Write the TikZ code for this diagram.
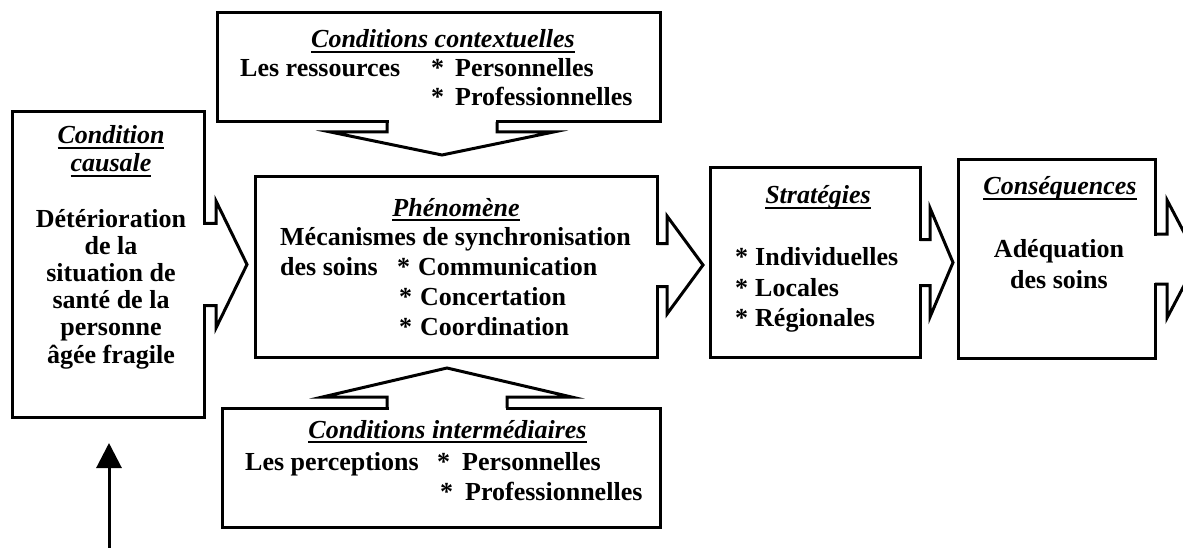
\documentclass[tikz,border=0pt]{standalone}
\usepackage{fontspec}
\setmainfont{Liberation Serif}
\usetikzlibrary{arrows.meta,calc}

\tikzset{
  frame/.style={draw, line width=3pt, fill=white, inner sep=0pt, outer sep=0pt},
  lbl/.style={inner sep=0pt, font=\fontsize{26}{28}\selectfont\bfseries},
  head/.style={lbl, anchor=base, font=\fontsize{26}{28}\selectfont\bfseries\itshape},
  item/.style={lbl, anchor=base west},
  blk/.style={line width=3pt, line join=miter},
}
% underlined heading with a fixed rule below the baseline
\newsavebox\headbox
\newcommand\hdline[1]{\sbox\headbox{#1}%
  \rlap{\rule[-4.8pt]{\wd\headbox}{1.8pt}}\usebox\headbox}
% starred list entry: star, then the text after a fixed gap
\newcommand\starred[2]{\makebox[#1][l]{*}#2}
% open block arrow leaving a frame: #1 anchor, #2 direction,
% #3 shaft half-width, #4 shaft length, #5 head half-width, #6 head length
\newcommand\blockarrow[6]{%
  \begin{scope}[shift={(#1)}, rotate=#2]
    \fill[white] (-2,-#3+1.5) rectangle (1.6,#3-1.5);
    \draw[blk] (0,-#3) -- (#4,-#3) -- (#4,-#5) -- (#4+#6,0)
               -- (#4,#5) -- (#4,#3) -- (0,#3);
  \end{scope}}

\begin{document}
\begin{tikzpicture}[x=1pt, y=-1pt]
  \useasboundingbox (0,0) rectangle (1183,548);
  \clip (0,0) rectangle (1183,548);

  % frames
  \node[frame, minimum width=192, minimum height=305] (cause) at (108,264.5) {};
  \node[frame, minimum width=443, minimum height=109] (ctx)   at (438.5,67.5) {};
  \node[frame, minimum width=402, minimum height=180] (phen)  at (456,267) {};
  \node[frame, minimum width=210, minimum height=189] (strat) at (815,262.5) {};
  \node[frame, minimum width=197, minimum height=198] (cons)  at (1056.5,259) {};
  \node[frame, minimum width=438, minimum height=119] (inter) at (441,467.5) {};

  % block arrows between the frames
  \blockarrow{cause.east}{0}{41}{12}{63.5}{31}
  \blockarrow{$(ctx.south)+(3.5,0)$}{-90}{55}{10}{111.5}{23}
  \blockarrow{$(inter.north)+(6,0)$}{90}{60}{11}{124.5}{29}
  \blockarrow{$(phen.east)+(0,-2)$}{0}{21.5}{10}{49}{36}
  \blockarrow{strat.east}{0}{23}{10}{54.5}{23}
  \blockarrow{cons.east}{0}{25}{12}{59}{31}

  % incoming arrow under the causal condition
  \coordinate (feed) at (109,570);
  \draw[line width=3pt, -{Triangle[width=25pt,length=25pt]}, shorten >=26pt]
    (feed) -- (feed |- cause.south);

  % Condition causale
  \node[head] (cause-h1) at (111,144) {\hdline{Condition}};
  \node[head] (cause-h2) at (111,172) {\hdline{causale}};
  \foreach \t [count=\i from 0] in {Détérioration, de la, situation de,
      santé de la, personne, âgée fragile}
    \node[lbl, anchor=base] (cause-l\i) at (111, 227+27.2*\i) {\t};

  % Conditions contextuelles
  \node[head] (ctx-h) at (443,48) {\hdline{Conditions contextuelles}};
  \node[item] (ctx-l) at (240,77) {Les ressources};
  \node[item] (ctx-a) at (431,77) {\starred{24pt}{Personnelles}};
  \node[item] (ctx-b) at (431,106) {\starred{24pt}{Professionnelles}};

  % Phénomène
  \node[head] (phen-h) at (456,216) {\hdline{Phénomène}};
  \node[item] (phen-l1) at (280,245) {Mécanismes de synchronisation};
  \node[item] (phen-l2) at (280,275) {des soins};
  \node[item] (phen-a) at (397,275) {\starred{21pt}{Communication}};
  \node[item] (phen-b) at (399,305) {\starred{21pt}{Concertation}};
  \node[item] (phen-c) at (399,335) {\starred{21pt}{Coordination}};

  % Stratégies
  \node[head] (strat-h) at (818,204) {\hdline{Stratégies}};
  \node[item] (strat-a) at (735,265) {\starred{20pt}{Individuelles}};
  \node[item] (strat-b) at (735,296) {\starred{20pt}{Locales}};
  \node[item] (strat-c) at (735,326) {\starred{20pt}{Régionales}};

  % Conséquences
  \node[head] (cons-h) at (1060,195) {\hdline{Conséquences}};
  \node[lbl, anchor=base] (cons-l1) at (1059,257) {Adéquation};
  \node[lbl, anchor=base] (cons-l2) at (1059,288) {des soins};

  % Conditions intermédiaires
  \node[head] (inter-h) at (447.5,438) {\hdline{Conditions intermédiaires}};
  \node[item] (inter-l) at (245,470) {Les perceptions};
  \node[item] (inter-a) at (437,470) {\starred{25pt}{Personnelles}};
  \node[item] (inter-b) at (440,500) {\starred{25pt}{Professionnelles}};
\end{tikzpicture}
\end{document}
